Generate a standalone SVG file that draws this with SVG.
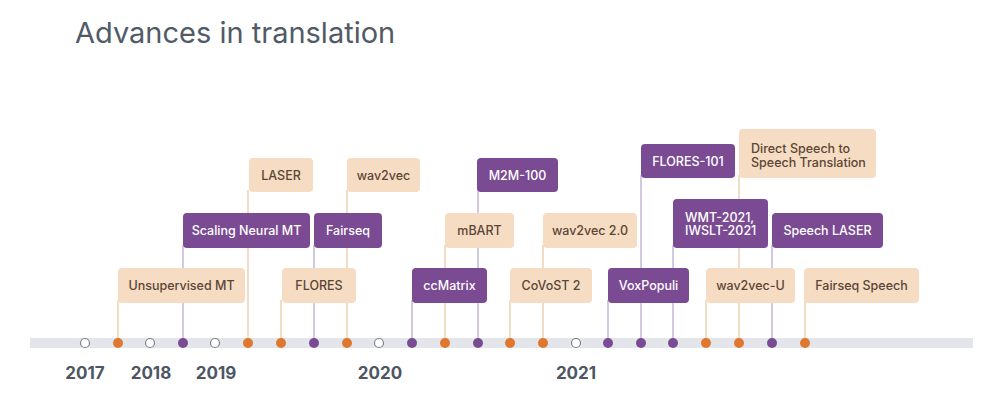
<svg xmlns="http://www.w3.org/2000/svg" width="1000" height="397" viewBox="0 0 1000 397">
<style>
.title{font-family:Inter,"Noto Sans",sans-serif;font-size:29px;fill:#515b67}
.yr{font-family:Inter,"Noto Sans",sans-serif;font-size:17px;font-weight:700;fill:#4d5662;text-anchor:middle}
.t rect{fill:#f6dcc3}
.p rect{fill:#7a4a93}
.t text{fill:#5b4636}
.p text{fill:#ffffff}
.lb{font-family:Inter,"Noto Sans",sans-serif;font-size:12.5px;font-weight:500;text-anchor:middle}
.ll{font-family:Inter,"Noto Sans",sans-serif;font-size:12.5px;font-weight:500}
.lt{stroke:#eccaa8;stroke-width:1.3}
.lp{stroke:#bcaccf;stroke-width:1.3}
.do{fill:#e0772f}
.dp{fill:#7a4a93}
.dh{fill:#ffffff;stroke:#7d838c;stroke-width:1.2}
</style>
<rect width="1000" height="397" fill="#ffffff"/>
<text class="title" x="75" y="42.5">Advances in translation</text>
<rect x="30" y="338" width="943" height="10" fill="#e3e5eb"/>
<g id="connectors">
<line class="lt" x1="118" y1="343" x2="118" y2="300"/>
<line class="lp" x1="183" y1="343" x2="183" y2="245"/>
<line class="lt" x1="248" y1="343" x2="248" y2="190"/>
<line class="lt" x1="281" y1="343" x2="281" y2="300"/>
<line class="lp" x1="314" y1="343" x2="314" y2="245"/>
<line class="lt" x1="347" y1="343" x2="347" y2="190"/>
<line class="lp" x1="412" y1="343" x2="412" y2="300"/>
<line class="lt" x1="445" y1="343" x2="445" y2="245"/>
<line class="lp" x1="478" y1="343" x2="478" y2="190"/>
<line class="lt" x1="510" y1="343" x2="510" y2="300"/>
<line class="lt" x1="543" y1="343" x2="543" y2="245"/>
<line class="lp" x1="608" y1="343" x2="608" y2="300"/>
<line class="lp" x1="641" y1="343" x2="641" y2="175"/>
<line class="lp" x1="673" y1="343" x2="673" y2="245"/>
<line class="lt" x1="706" y1="343" x2="706" y2="300"/>
<line class="lt" x1="739" y1="343" x2="739" y2="175"/>
<line class="lp" x1="772" y1="343" x2="772" y2="245"/>
<line class="lt" x1="805" y1="343" x2="805" y2="300"/>
</g>
<g id="dots">
<circle class="dh" cx="85" cy="343" r="4.5"/>
<circle class="do" cx="118" cy="343" r="5"/>
<circle class="dh" cx="150" cy="343" r="4.5"/>
<circle class="dp" cx="183" cy="343" r="5"/>
<circle class="dh" cx="215" cy="343" r="4.5"/>
<circle class="do" cx="248" cy="343" r="5"/>
<circle class="do" cx="281" cy="343" r="5"/>
<circle class="dp" cx="314" cy="343" r="5"/>
<circle class="do" cx="347" cy="343" r="5"/>
<circle class="dh" cx="379" cy="343" r="4.5"/>
<circle class="dp" cx="412" cy="343" r="5"/>
<circle class="do" cx="445" cy="343" r="5"/>
<circle class="dp" cx="478" cy="343" r="5"/>
<circle class="do" cx="510" cy="343" r="5"/>
<circle class="do" cx="543" cy="343" r="5"/>
<circle class="dh" cx="576" cy="343" r="4.5"/>
<circle class="dp" cx="608" cy="343" r="5"/>
<circle class="dp" cx="641" cy="343" r="5"/>
<circle class="dp" cx="673" cy="343" r="5"/>
<circle class="do" cx="706" cy="343" r="5"/>
<circle class="do" cx="739" cy="343" r="5"/>
<circle class="dp" cx="772" cy="343" r="5"/>
<circle class="do" cx="805" cy="343" r="5"/>
</g>
<g id="years">
<text class="yr" x="85" y="379">2017</text>
<text class="yr" x="151" y="379">2018</text>
<text class="yr" x="216" y="379">2019</text>
<text class="yr" x="380" y="379">2020</text>
<text class="yr" x="576" y="379">2021</text>
</g>
<g id="n-unsupervised-mt" class="t"><rect x="118" y="268" width="127" height="35" rx="4"/><text class="lb" x="181.5" y="290">Unsupervised MT</text></g>
<g id="n-scaling-neural-mt" class="p"><rect x="183" y="213" width="127" height="35" rx="4"/><text class="lb" x="246.5" y="235">Scaling Neural MT</text></g>
<g id="n-laser" class="t"><rect x="249" y="158" width="64" height="34" rx="4"/><text class="lb" x="281" y="180">LASER</text></g>
<g id="n-flores" class="t"><rect x="282" y="268" width="74" height="35" rx="4"/><text class="lb" x="319" y="290">FLORES</text></g>
<g id="n-fairseq" class="p"><rect x="314" y="213" width="68" height="35" rx="4"/><text class="lb" x="348" y="235">Fairseq</text></g>
<g id="n-wav2vec" class="t"><rect x="347" y="158" width="73" height="34" rx="4"/><text class="lb" x="383.5" y="180">wav2vec</text></g>
<g id="n-ccmatrix" class="p"><rect x="412" y="268" width="75" height="35" rx="4"/><text class="lb" x="449.5" y="290">ccMatrix</text></g>
<g id="n-mbart" class="t"><rect x="445" y="213" width="69" height="35" rx="4"/><text class="lb" x="479.5" y="235">mBART</text></g>
<g id="n-m2m-100" class="p"><rect x="477" y="158" width="81" height="34" rx="4"/><text class="lb" x="517.5" y="180">M2M-100</text></g>
<g id="n-covost-2" class="t"><rect x="510" y="268" width="82" height="35" rx="4"/><text class="lb" x="551" y="290">CoVoST 2</text></g>
<g id="n-wav2vec-2" class="t"><rect x="543" y="213" width="94" height="35" rx="4"/><text class="lb" x="590" y="235">wav2vec 2.0</text></g>
<g id="n-voxpopuli" class="p"><rect x="608" y="268" width="81" height="35" rx="4"/><text class="lb" x="648.5" y="290">VoxPopuli</text></g>
<g id="n-flores-101" class="p"><rect x="641" y="144" width="94" height="34" rx="4"/><text class="lb" x="688" y="166">FLORES-101</text></g>
<g id="n-wmt-iwslt" class="p"><rect x="673" y="199" width="95" height="49" rx="4"/><text class="ll" x="685" y="221.5">WMT-2021,</text><text class="ll" x="685" y="234.5">IWSLT-2021</text></g>
<g id="n-direct-s2st" class="t"><rect x="739" y="129" width="137" height="49" rx="4"/><text class="ll" x="751" y="152.5">Direct Speech to</text><text class="ll" x="751" y="166.5">Speech Translation</text></g>
<g id="n-speech-laser" class="p"><rect x="772" y="213" width="111" height="35" rx="4"/><text class="lb" x="827.5" y="235">Speech LASER</text></g>
<g id="n-wav2vec-u" class="t"><rect x="706" y="268" width="89" height="35" rx="4"/><text class="lb" x="750.5" y="290">wav2vec-U</text></g>
<g id="n-fairseq-speech" class="t"><rect x="804" y="268" width="115" height="35" rx="4"/><text class="lb" x="861.5" y="290">Fairseq Speech</text></g>
</svg>
